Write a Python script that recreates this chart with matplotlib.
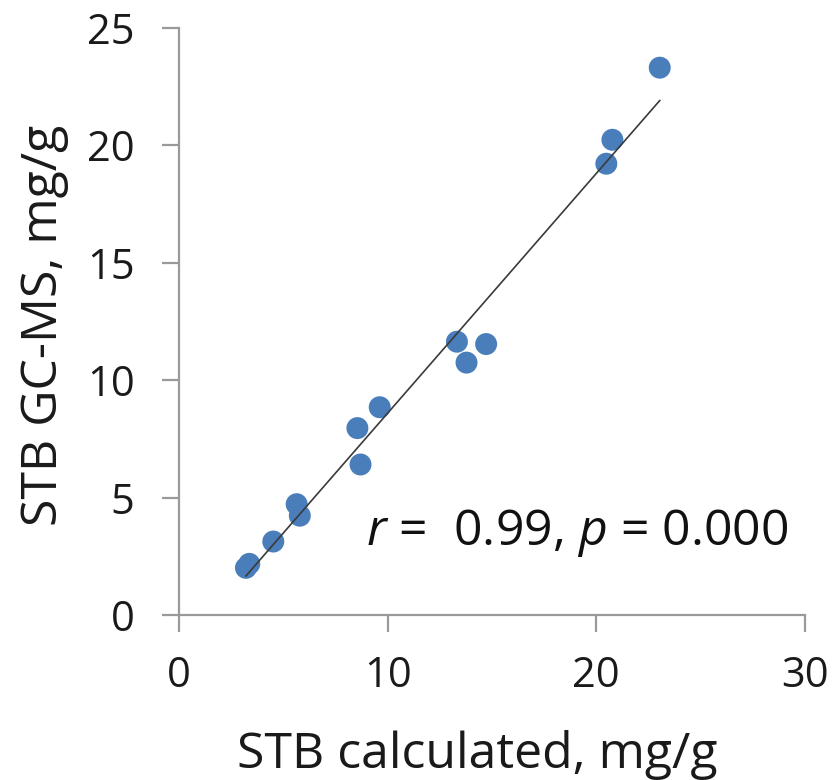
import matplotlib
matplotlib.use("Agg")
import matplotlib.pyplot as plt
import numpy as np

# STB values, mg/g
stb_calculated = [3.21, 3.37, 4.52, 5.64, 5.79, 8.55, 8.70, 9.62, 13.32, 13.78, 14.72, 20.48, 20.77, 23.04]
stb_gcms = [2.01, 2.18, 3.13, 4.72, 4.23, 7.96, 6.41, 8.85, 11.64, 10.75, 11.54, 19.22, 20.24, 23.31]
x_ticks = [0, 10, 20, 30]
y_ticks = [0, 5, 10, 15, 20, 25]
annotation = r"$\mathit{r}$ =  0.99, $\mathit{p}$ = 0.000"

plt.rcParams.update({
    "font.family": ["Open Sans", "DejaVu Sans"],
    "mathtext.fontset": "custom",
    "mathtext.rm": "Open Sans",
    "mathtext.it": "Open Sans:italic",
    "axes.spines.top": False,
    "axes.spines.right": False,
})

fig = plt.figure(figsize=(8.34, 7.8), dpi=100)
ax = fig.add_axes([0.2146, 0.2115, 0.7506, 0.7526])

x = np.array(stb_calculated)
y = np.array(stb_gcms)
ax.scatter(x, y, s=250, color="#4A7EBB", edgecolors="none", zorder=3)

# linear trendline over the data range
slope, intercept = np.polyfit(x, y, 1)
xs = np.array([x.min(), x.max()])
ax.plot(xs, slope * xs + intercept, color="#3A3A3A", linewidth=1.2, zorder=4)

ax.set_xlim(0, 30)
ax.set_ylim(0, 25)
ax.set_xticks(x_ticks)
ax.set_yticks(y_ticks)

for side in ("left", "bottom"):
    ax.spines[side].set_color("#9A9A9A")
    ax.spines[side].set_linewidth(1.6)
ax.tick_params(axis="both", direction="out", length=12, width=1.6, color="#9A9A9A",
               labelsize=30, labelcolor="#1A1A1A")
ax.tick_params(axis="y", pad=20)
ax.tick_params(axis="x", pad=17)

ax.set_xlabel("STB calculated, mg/g", fontsize=36, color="#1A1A1A")
ax.set_ylabel("STB GC-MS, mg/g", fontsize=36, color="#1A1A1A")
ax.xaxis.set_label_coords(0.476, -0.195)
ax.yaxis.set_label_coords(-0.175, 0.494)

ax.text(8.95, 2.98, annotation, fontsize=36, color="#111111", ha="left", va="baseline")

fig.savefig("out.png", dpi=100)
